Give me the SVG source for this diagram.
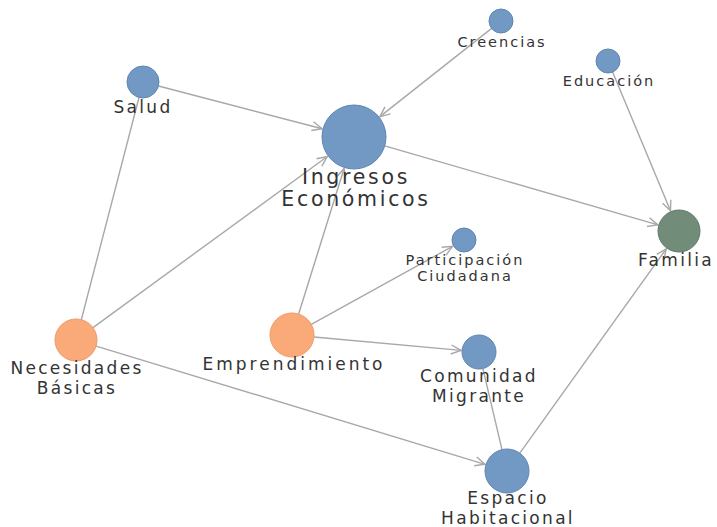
<svg xmlns="http://www.w3.org/2000/svg" width="717" height="527" viewBox="0 0 717 527">
<defs>
<marker id="arr" viewBox="0 0 12 12" refX="11" refY="6" markerWidth="12" markerHeight="12" markerUnits="userSpaceOnUse" orient="auto">
<path d="M1,1.5 L11,6 L1,10.5" fill="none" stroke="#a8a8a8" stroke-width="1.4"/>
</marker>
</defs>
<style>
.e{stroke:#a8a8a8;stroke-width:1.4;fill:none}
.a{marker-end:url(#arr)}
.b{fill:#7199c4;stroke:#5d86b3;stroke-width:1}
.o{fill:#f9aa78;stroke:#ef9a66;stroke-width:1}
.g{fill:#728c7a;stroke:#5f7a68;stroke-width:1}
text{font-family:"DejaVu Sans","Liberation Sans",sans-serif;fill:#333;text-anchor:middle}
.s{font-size:14.5px;letter-spacing:2px}
.m{font-size:17px;letter-spacing:2.3px}
.l{font-size:20.5px;letter-spacing:2.7px}
</style>
<rect width="717" height="527" fill="#fff"/>
<g id="connectors">
<line class="e a" x1="491.6" y1="28.4" x2="379.9" y2="116.6"/>
<line class="e a" x1="158.5" y1="86" x2="322.1" y2="128.7"/>
<line class="e a" x1="612.6" y1="72.1" x2="670.5" y2="210.7"/>
<line class="e a" x1="384.7" y1="145.9" x2="657.9" y2="224.9"/>
<line class="e a" x1="93" y1="327.6" x2="327.3" y2="156.5"/>
<line class="e" x1="81.3" y1="319.7" x2="139" y2="97.5"/>
<line class="e a" x1="298.6" y1="314" x2="344.1" y2="168.5"/>
<line class="e a" x1="311.3" y1="324.4" x2="452.6" y2="246.3"/>
<line class="e a" x1="314" y1="337" x2="461.1" y2="350.4"/>
<line class="e a" x1="96.1" y1="346.1" x2="485" y2="464.3"/>
<line class="e" x1="502" y1="449.6" x2="482.9" y2="368.6"/>
<line class="e a" x1="519.8" y1="453.1" x2="666.2" y2="248.9"/>
</g>
<g id="creencias"><circle class="b" cx="501" cy="21" r="12"/><text class="s" x="502" y="47">Creencias</text></g>
<g id="educacion"><circle class="b" cx="608" cy="61" r="12"/><text class="s" x="609" y="86">Educación</text></g>
<g id="salud"><circle class="b" cx="143" cy="82" r="16"/><text class="m" x="143" y="113">Salud</text></g>
<g id="ingresos"><circle class="b" cx="354" cy="137" r="32"/><text class="l" x="356" y="184">Ingresos</text><text class="l" x="356" y="206">Económicos</text></g>
<g id="familia"><circle class="g" cx="679" cy="231" r="21"/><text class="m" x="676" y="266">Familia</text></g>
<g id="participacion"><circle class="b" cx="464" cy="240" r="12"/><text class="s" x="465" y="265">Participación</text><text class="s" x="465" y="281">Ciudadana</text></g>
<g id="necesidades"><circle class="o" cx="76" cy="340" r="21"/><text class="m" x="77" y="374">Necesidades</text><text class="m" x="77" y="394">Básicas</text></g>
<g id="emprendimiento"><circle class="o" cx="292" cy="335" r="22"/><text class="m" x="294" y="370" style="letter-spacing:3px">Emprendimiento</text></g>
<g id="comunidad"><circle class="b" cx="479" cy="352" r="17"/><text class="m" x="479" y="382">Comunidad</text><text class="m" x="479" y="401.5">Migrante</text></g>
<g id="espacio"><circle class="b" cx="507" cy="471" r="22"/><text class="m" x="508" y="504">Espacio</text><text class="m" x="508" y="523.5">Habitacional</text></g>
</svg>
